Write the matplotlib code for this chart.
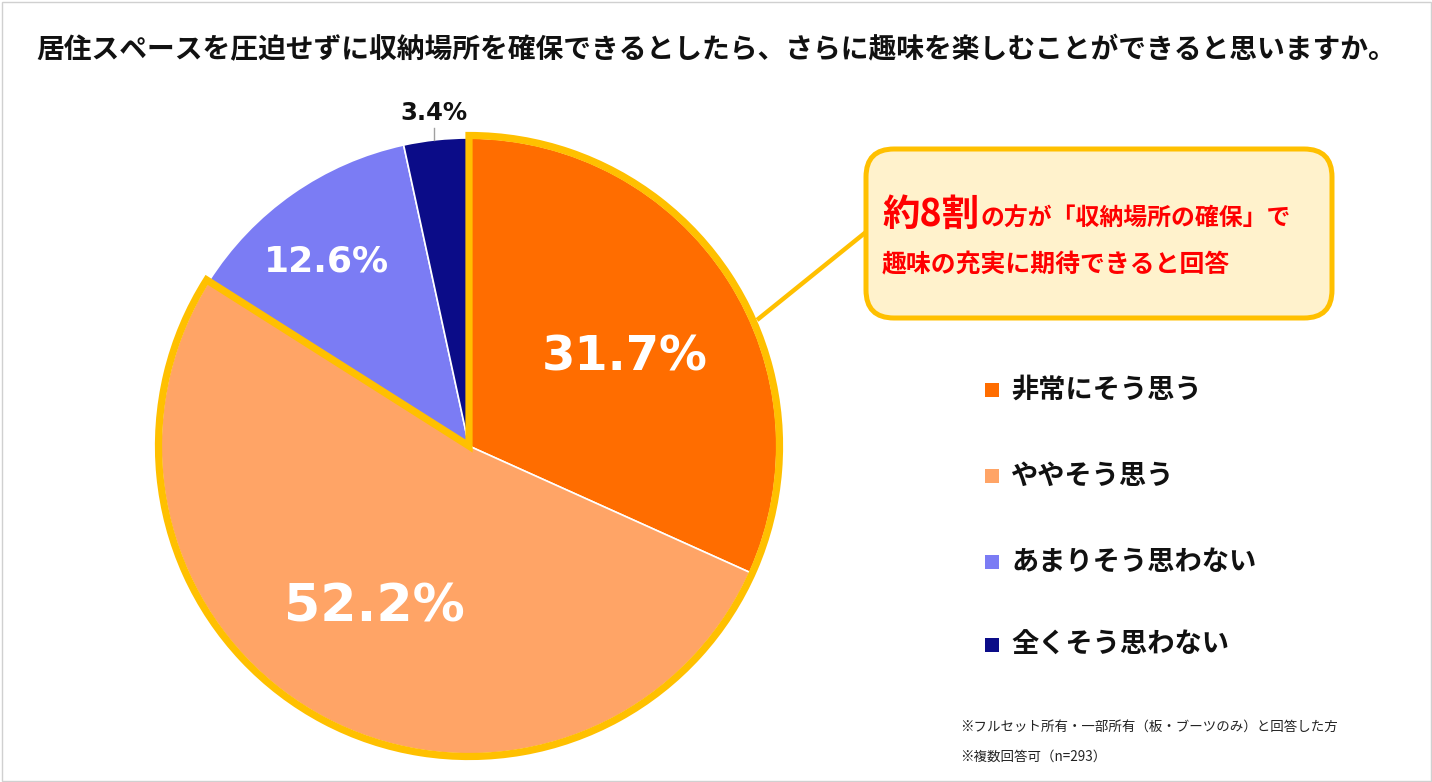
import matplotlib
matplotlib.use("Agg")
import matplotlib.pyplot as plt
from matplotlib.patches import Wedge, FancyBboxPatch, Rectangle

# ---- data ----
categories = ["非常にそう思う", "ややそう思う", "あまりそう思わない", "全くそう思わない"]
values = [31.7, 52.2, 12.6, 3.4]
colors = ["#FF6D00", "#FFA466", "#7B7CF4", "#0B0C88"]
title = "居住スペースを圧迫せずに収納場所を確保できるとしたら、さらに趣味を楽しむことができると思いますか。"
callout_big = "約8割"
callout_rest = "の方が「収納場所の確保」で"
callout_line2 = "趣味の充実に期待できると回答"
notes = ["※フルセット所有・一部所有（板・ブーツのみ）と回答した方", "※複数回答可（n=293）"]

JP = ["Noto Sans CJK JP", "DejaVu Sans"]
W, H = 1432, 782
fig = plt.figure(figsize=(W / 100, H / 100), dpi=100)
ax = fig.add_axes([0, 0, 1, 1])
ax.set_xlim(0, W)
ax.set_ylim(0, H)
ax.set_aspect("equal")
ax.axis("off")

def Y(y):
    return H - y

# frame border
ax.add_patch(Rectangle((1.5, 1.5), W - 3, H - 3, fill=False, ec="#D0D0D0", lw=1))

# title
ax.text(W / 2, Y(50), title, ha="center", va="center", fontsize=20,
        fontweight="bold", family=JP, color="#111111")

# pie
cx, cy, r = 469, Y(446), 308
wedges, _ = ax.pie(values, colors=colors, startangle=90, counterclock=False,
                   center=(cx, cy), radius=r, frame=True,
                   wedgeprops=dict(edgecolor="white", linewidth=1.2))
ax.set_xlim(0, W)
ax.set_ylim(0, H)
ax.axis("off")

# gold outline around first two slices
total = sum(values)
span = (values[0] + values[1]) / total * 360
ax.add_patch(Wedge((cx, cy), r + 2.5, 90 - span, 90, fill=False,
                   ec="#FFC000", lw=5.2, joinstyle="miter", zorder=5))

# percentage labels
label_pos = [(625, 357), (374, 607), (327, 262), (434, 113)]
label_sizes = [34.5, 37.5, 26, 17.5]
label_cols = ["white", "white", "white", "#111111"]
for v, (lx, ly), fs, c in zip(values, label_pos, label_sizes, label_cols):
    ax.text(lx, Y(ly), f"{v:.1f}%", ha="center", va="center", fontsize=fs,
            fontweight="bold", family="DejaVu Sans", color=c, zorder=6)
ax.plot([434, 434], [Y(128), Y(140)], color="#A0A0A0", lw=1, zorder=6)

# callout connector and box
ax.plot([757, 866], [Y(320), Y(232)], color="#FFC000", lw=3.2, zorder=4,
        solid_capstyle="butt")
ax.add_patch(FancyBboxPatch((866, Y(318)), 466, 169,
                            boxstyle="round,pad=0,rounding_size=28",
                            fc="#FFF2CC", ec="#FFC000", lw=3.6, zorder=5))
t1 = ax.text(882, Y(226), callout_big, ha="left", va="baseline", fontsize=27,
             fontweight="bold", family=JP, color="#FF0000", zorder=6)
fig.canvas.draw()
bb = t1.get_window_extent()
ax.text(bb.x1 + 1, Y(226), callout_rest, ha="left", va="baseline", fontsize=17.2,
        fontweight="bold", family=JP, color="#FF0000", zorder=6)
ax.text(882, Y(265), callout_line2, ha="left", va="center", fontsize=17.9,
        fontweight="bold", family=JP, color="#FF0000", zorder=6)

# legend
leg_y = [390, 476, 562, 645]
for name, c, ly in zip(categories, colors, leg_y):
    ax.add_patch(Rectangle((985, Y(ly) - 7), 14, 14, fc=c, ec="none"))
    ax.text(1011, Y(ly), name, ha="left", va="center", fontsize=19.6,
            fontweight="bold", family=JP, color="#111111")

# notes
ax.text(960, Y(727), notes[0], ha="left", va="center", fontsize=9.7,
        family=JP, color="#222222")
ax.text(960, Y(757), notes[1], ha="left", va="center", fontsize=9.7,
        family=JP, color="#222222")

fig.savefig("out.png", dpi=100)
